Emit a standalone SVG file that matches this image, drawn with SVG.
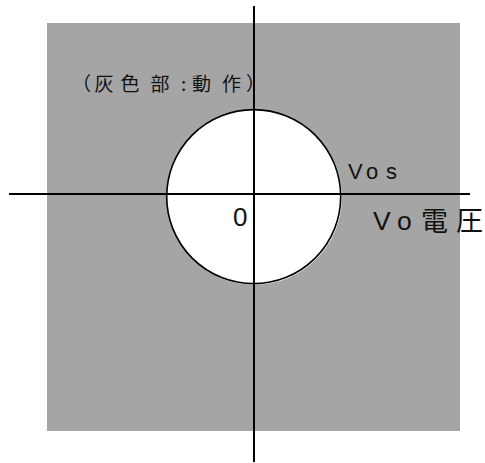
<svg xmlns="http://www.w3.org/2000/svg" width="485" height="463" viewBox="0 0 485 463">
<style>
.axis{stroke:#000;stroke-width:2;fill:none}
.lat{font-family:"Liberation Sans","Noto Sans CJK JP",sans-serif;fill:#111}
.cjk{font-family:"Noto Sans CJK JP","Liberation Sans",sans-serif;fill:#111}
</style>
<rect x="0" y="0" width="485" height="463" fill="#fff"/>
<g id="region">
<rect x="47" y="23" width="413" height="408" fill="#a5a5a5"/>
</g>
<g id="circle">
<circle cx="254.5" cy="197.5" r="87.3" fill="#fff"/>
<circle cx="253.7" cy="196.6" r="87" fill="#fff" stroke="#000" stroke-width="1.6"/>
</g>
<g id="axes">
<line class="axis" x1="254" y1="6" x2="254" y2="462"/>
<line class="axis" x1="9" y1="194" x2="470" y2="194"/>
</g>
<g id="labels">
<text class="cjk" font-size="19" x="72 94.5 120.5 150.5 181 192 222 246" y="91">（灰色部:動作）</text>
<text class="lat" font-size="22" x="348 366 386" y="179">Vos</text>
<text class="lat" font-size="26" x="233" y="226">0</text>
<text class="lat" font-size="26.5" x="373 397" y="230">Vo</text>
<text class="cjk" font-size="27" x="421 456" y="231">電圧</text>
</g>
</svg>
